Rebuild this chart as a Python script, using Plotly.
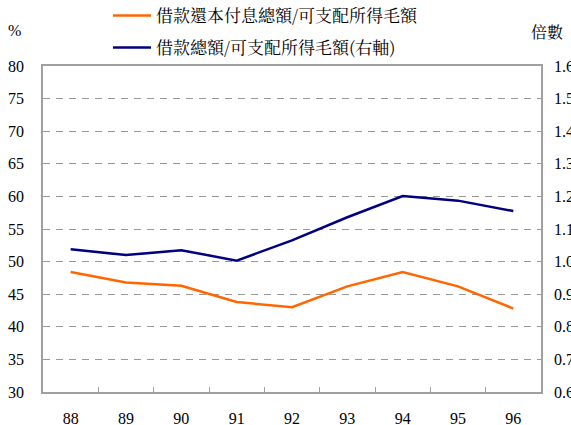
import plotly.graph_objects as go

years = ["88", "89", "90", "91", "92", "93", "94", "95", "96"]
repay_ratio = [48.4, 46.8, 46.3, 43.8, 43.0, 46.2, 48.4, 46.2, 42.8]
debt_ratio = [1.038, 1.020, 1.035, 1.003, 1.065, 1.136, 1.201, 1.187, 1.155]
left_ticks = [30, 35, 40, 45, 50, 55, 60, 65, 70, 75, 80]
right_ticks = [0.6, 0.7, 0.8, 0.9, 1.0, 1.1, 1.2, 1.3, 1.4, 1.5, 1.6]

name1 = "借款還本付息總額/可支配所得毛額"
name2 = "借款總額/可支配所得毛額(右軸)"

num_font = dict(family="Liberation Serif, Times New Roman, serif", size=16, color="#000")
cjk_family = "Noto Serif CJK TC, Noto Sans CJK TC"
cjk_font = dict(family=cjk_family, size=17, color="#000")

fig = go.Figure()
fig.add_trace(go.Scatter(x=years, y=repay_ratio, mode="lines", name=name1,
                         line=dict(color="#FF6600", width=2.5), legend="legend"))
fig.add_trace(go.Scatter(x=years, y=debt_ratio, mode="lines", name=name2,
                         line=dict(color="#000080", width=2.5), yaxis="y2", legend="legend2"))

L, R, T, B = 43, 30, 66, 33
pw, ph = 571 - L - R, 425 - T - B

axis_color = "#A0A0A0"
fig.update_layout(
    width=571, height=425,
    margin=dict(l=L, r=R, t=T, b=B, autoexpand=False),
    plot_bgcolor="white", paper_bgcolor="white",
    font=num_font,
    xaxis=dict(type="category", range=[-0.5, 8.5], showline=True, linecolor=axis_color,
               linewidth=1.5, mirror=True, automargin=False,
               ticks="inside", tickson="boundaries", ticklen=5, tickcolor=axis_color,
               showgrid=False, tickfont=num_font, ticklabelstandoff=11),
    yaxis=dict(range=[30, 80], tickvals=left_ticks, showline=True, linecolor=axis_color,
               linewidth=1.5, mirror=True, showgrid=True, gridcolor="#999999",
               griddash="7px,6px", gridwidth=1, ticks="", tickfont=num_font,
               ticklabelstandoff=14, zeroline=False, automargin=False),
    yaxis2=dict(range=[0.6, 1.6], tickvals=right_ticks, tickformat=".1f", overlaying="y",
                side="right", showgrid=False, showline=False, ticks="", tickfont=num_font,
                ticklabelstandoff=12, zeroline=False, automargin=False),
    legend=dict(x=(108 - L) / pw, y=1 + (T + 2) / ph, xanchor="left", yanchor="top",
                font=cjk_font, bgcolor="rgba(0,0,0,0)", itemwidth=38),
    legend2=dict(x=(108 - L) / pw, y=1 + (T - 30) / ph, xanchor="left", yanchor="top",
                 font=cjk_font, bgcolor="rgba(0,0,0,0)", itemwidth=38),
    showlegend=True,
    annotations=[
        dict(text="%", x=(14 - L) / pw, y=1 + (T - 31) / ph, xref="paper", yref="paper",
             showarrow=False, font=num_font, xanchor="center", yanchor="middle"),
        dict(text="倍數", x=(547 - L) / pw, y=1 + (T - 32) / ph, xref="paper", yref="paper",
             showarrow=False, font=dict(family=cjk_family, size=16, color="#000"),
             xanchor="center", yanchor="middle"),
    ],
)

fig.write_html("out.html", config={"displayModeBar": False},
               post_script="document.body.style.margin='0';document.body.style.overflow='hidden';")
